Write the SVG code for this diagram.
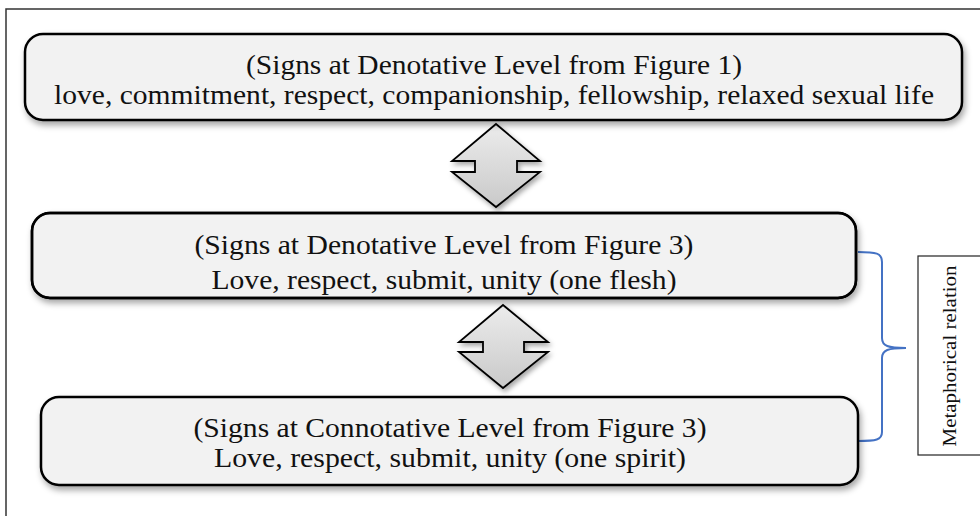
<svg xmlns="http://www.w3.org/2000/svg" width="980" height="516" viewBox="0 0 980 516">
<style>
.box{fill:#f2f2f2;stroke:#000;stroke-width:2.5;filter:url(#sh)}
.t{font-family:"Liberation Serif","Times New Roman",serif;font-size:28px;fill:#111;text-anchor:middle}
.arr{fill:url(#g);stroke:#000;stroke-width:1.8;stroke-linejoin:miter;filter:url(#sh2)}
.br{fill:none;stroke:#4472C4;stroke-width:2}
.lab{fill:#fff;stroke:#222;stroke-width:1.2}
.lt{font-family:"Liberation Serif","Times New Roman",serif;font-size:18px;fill:#111;text-anchor:middle}
</style>
<defs>
<filter id="sh" x="-5%" y="-20%" width="110%" height="150%">
<feDropShadow dx="2" dy="4" stdDeviation="3" flood-color="#000" flood-opacity="0.35"/>
</filter>
<filter id="sh2" x="-30%" y="-30%" width="160%" height="160%">
<feDropShadow dx="2" dy="3" stdDeviation="2.5" flood-color="#000" flood-opacity="0.35"/>
</filter>
<linearGradient id="g" x1="0" y1="0" x2="0" y2="1">
<stop offset="0" stop-color="#ececec"/>
<stop offset="1" stop-color="#c9c9c9"/>
</linearGradient>
<clipPath id="c2"><rect x="32" y="213" width="824" height="84" rx="18"/></clipPath>
</defs>
<rect x="0" y="0" width="980" height="516" fill="#fff"/>
<path d="M6,516 V9 H980" fill="none" stroke="#333" stroke-width="1.5"/>

<g id="connectors">
<polygon class="arr" points="496,124 540,161 517,161 517,172 540,172 496,207 452,172 475,172 475,161 452,161"/>
<polygon class="arr" points="503,305 548,342 524,342 524,352 548,352 503,388 459,352 483,352 483,342 459,342"/>
<path class="br" d="M858,252 C876,252 882,253 882,262 L882,338 C882,346 888,348 906,348 C888,348 882,350 882,358 L882,432 C882,440 876,441 858,441"/>
</g>

<g id="node1">
<rect class="box" x="25" y="34" width="937" height="86" rx="18"/>
<text class="t" x="494" y="74" textLength="496" lengthAdjust="spacingAndGlyphs">(Signs at Denotative Level from Figure 1)</text>
<text class="t" x="494" y="104" textLength="880" lengthAdjust="spacingAndGlyphs">love, commitment, respect, companionship, fellowship, relaxed sexual life</text>
</g>

<g id="node2">
<rect class="box" x="32" y="213" width="824" height="85" rx="18"/>
<g clip-path="url(#c2)">
<text class="t" x="444" y="254" textLength="499" lengthAdjust="spacingAndGlyphs">(Signs at Denotative Level from Figure 3)</text>
<text class="t" x="444" y="289" textLength="465" lengthAdjust="spacingAndGlyphs">Love, respect, submit, unity (one flesh)</text>
</g>
<rect x="32" y="213" width="824" height="85" rx="18" fill="none" stroke="#000" stroke-width="2.5"/>
</g>

<g id="node3">
<rect class="box" x="41" y="397" width="817" height="88" rx="18"/>
<text class="t" x="450" y="437" textLength="513" lengthAdjust="spacingAndGlyphs">(Signs at Connotative Level from Figure 3)</text>
<text class="t" x="450" y="467" textLength="472" lengthAdjust="spacingAndGlyphs">Love, respect, submit, unity (one spirit)</text>
</g>

<g id="label">
<rect class="lab" x="918" y="256" width="70" height="199"/>
<text class="lt" transform="translate(956,356) rotate(-90)" textLength="181" lengthAdjust="spacingAndGlyphs">Metaphorical relation</text>
</g>
</svg>
